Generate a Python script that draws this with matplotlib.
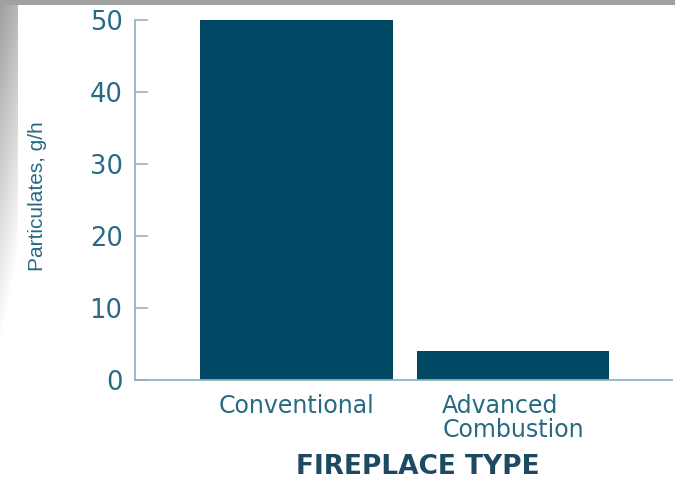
import numpy as np
import matplotlib
matplotlib.use("Agg")
from matplotlib import pyplot as plt

# data
categories = ["Conventional", "Advanced\nCombustion"]
particulates = [50, 4]
yticks = [0, 10, 20, 30, 40, 50]

bar_color = "#004763"
text_color = "#286a84"
spine_color = "#8fb3c4"

fig = plt.figure(figsize=(6.75, 4.82), dpi=100)

# gray frame on top / left edge of the slide
bg = fig.add_axes([0, 0, 1, 1], zorder=-10)
h, w = 482, 675
img = np.ones((h, w, 3))
yy, xx = np.mgrid[0:h, 0:w]
fade = np.clip(1 - yy / 340.0, 0, 1)
left = (xx < 18) & (yy > 4)
shade = 0.62 + 0.38 * (1 - fade) + 0.1 * (xx / 18.0)
img[left] = np.clip(shade[left], 0, 1)[:, None]
img[:5, :] = 0.63
bg.imshow(img, aspect="auto", extent=(0, 1, 0, 1), origin="upper")
bg.axis("off")

ax = fig.add_axes([0.2, 0.2116, 0.7956, 0.7469])
x = np.arange(len(categories))
ax.bar(x, particulates, width=0.89, color=bar_color)

ax.set_xlim(-0.746, 1.734)
ax.set_ylim(0, 50)
ax.set_yticks(yticks)
ax.set_yticklabels([str(t) for t in yticks], fontsize=18.5, color=text_color)
ax.set_xticks(x)
ax.set_xticklabels(categories, fontsize=17, color=text_color, linespacing=1.02)
for lbl in ax.get_xticklabels():
    lbl.set_multialignment("left")
ax.tick_params(axis="y", direction="in", length=9, width=1.2, color=spine_color, pad=9)
ax.tick_params(axis="x", length=0, pad=10)

for s in ["top", "right"]:
    ax.spines[s].set_visible(False)
ax.spines["left"].set_color(spine_color)
ax.spines["bottom"].set_color(spine_color)
ax.spines["left"].set_linewidth(1.3)
ax.spines["bottom"].set_linewidth(1.3)

ax.set_ylabel("Particulates, g/h", fontsize=15, color=text_color,
              family=["Liberation Sans", "DejaVu Sans"])
ax.yaxis.set_label_coords(-0.163, 0.51)
ax.set_xlabel("FIREPLACE TYPE", fontsize=19, fontweight="bold", color="#1d4a63")
ax.xaxis.set_label_coords(0.527, -0.205)

fig.savefig("out.png", dpi=100)
